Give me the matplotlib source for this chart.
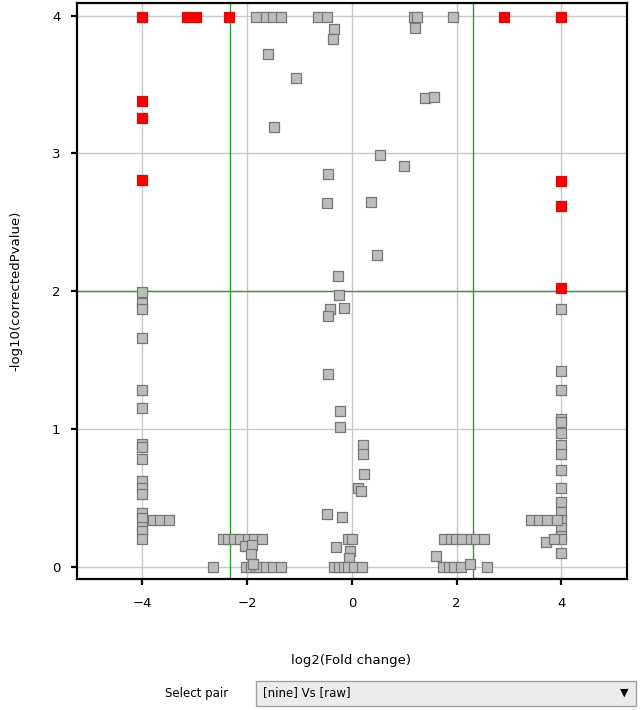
import matplotlib
matplotlib.use('Agg')
import matplotlib.pyplot as plt
from matplotlib.patches import Rectangle

# significant points (red)
red_x = [-4.0, -3.15, -2.97, -2.35, 2.91, 4.0, -4.0, -4.0, -4.0, 4.0, 4.0, 4.0]
red_y = [3.99, 3.99, 3.99, 3.99, 3.99, 3.99, 3.38, 3.26, 2.81, 2.80, 2.62, 2.02]

# other points (grey)
grey_x = [-1.83, -1.64, -1.51, -1.36, -0.65, -0.48, 1.19, 1.25, 1.93,
          -0.34, -0.36, -1.60, -1.06, -1.48,
          1.20, 1.40, 1.57, 0.54, 0.99, 0.36, 0.48,
          -0.46, -0.48, -0.27, -0.24, -0.41, -0.15, -0.46,
          -0.46, -0.22, -0.22, 0.22, 0.22, 0.24, 0.11, 0.17,
          -0.48, -0.18, -0.08, 0.01, -0.31, -0.04, -0.06,
          -0.35, -0.24, -0.16, -0.08, 0.04, 0.20,
          -4, -4, -4, -4, -4, -4, -4, -4, -4, -4, -4, -4, -4, -4, -4, -4, -4,
          -3.79, -3.66, -3.49,
          -2.47, -2.37, -2.26, -2.13, -1.99, -1.86, -1.72,
          -2.05, -1.90, -1.93,
          -2.65, -2.02, -1.93, -1.83, -1.77, -1.64, -1.51, -1.35, -1.88,
          1.76, 1.89, 1.98, 2.11, 2.27, 2.37, 2.52, 1.60,
          1.73, 1.86, 1.95, 2.08, 2.26, 2.57,
          4, 4, 4, 4, 4, 4, 4, 4, 4, 4, 4, 4, 4, 4, 4, 4, 4,
          3.42, 3.57, 3.72, 3.91, 3.70, 3.85]
grey_y = [3.99, 3.99, 3.99, 3.99, 3.99, 3.99, 3.99, 3.99, 3.99,
          3.90, 3.83, 3.72, 3.55, 3.19,
          3.91, 3.40, 3.41, 2.99, 2.91, 2.65, 2.26,
          2.85, 2.64, 2.11, 1.97, 1.87, 1.88, 1.82,
          1.40, 1.13, 1.01, 0.88, 0.82, 0.67, 0.57, 0.55,
          0.38, 0.36, 0.20, 0.20, 0.14, 0.11, 0.06,
          0.0, 0.0, 0.0, 0.0, 0.0, 0.0,
          1.99, 1.91, 1.87, 1.66, 1.28, 1.15, 0.89, 0.87, 0.78, 0.62, 0.57, 0.53, 0.39, 0.35, 0.29, 0.26, 0.20,
          0.34, 0.34, 0.34,
          0.20, 0.20, 0.20, 0.20, 0.20, 0.20, 0.20,
          0.15, 0.16, 0.09,
          0.0, 0.0, 0.0, 0.0, 0.0, 0.0, 0.0, 0.0, 0.02,
          0.20, 0.20, 0.20, 0.20, 0.20, 0.20, 0.20, 0.08,
          0.0, 0.0, 0.0, 0.0, 0.02, 0.0,
          1.87, 1.42, 1.28, 1.07, 1.05, 0.97, 0.88, 0.82, 0.70, 0.57, 0.47, 0.40, 0.34, 0.28, 0.22, 0.20, 0.10,
          0.34, 0.34, 0.34, 0.34, 0.18, 0.20]

fc_cut = 2.32
p_cut = 2.0

fig = plt.figure(figsize=(6.41, 7.10), dpi=100)
ax = fig.add_axes([0.120, 0.1845, 0.858, 0.811])

ax.set_xlim(-5.25, 5.25)
ax.set_ylim(-0.09, 4.09)
ax.set_xticks([-4, -2, 0, 2, 4])
ax.set_yticks([0, 1, 2, 3, 4])
ax.grid(color='#c8c8c8', linewidth=1.0, zorder=0)
ax.set_axisbelow(True)

ax.axvline(-fc_cut, color='#2aa02a', linewidth=1.0, zorder=1)
ax.axvline(fc_cut, color='#2aa02a', linewidth=1.0, zorder=1)
ax.axhline(p_cut, color='#2aa02a', linewidth=1.0, zorder=1)

ax.scatter(grey_x, grey_y, marker='s', s=58, facecolor='#bdbdbd',
           edgecolor='#777777', linewidth=0.9, zorder=3)
ax.scatter(red_x, red_y, marker='s', s=58, facecolor='#ff0000',
           edgecolor='#d01010', linewidth=0.9, zorder=4)

for sp in ax.spines.values():
    sp.set_linewidth(1.6)
    sp.set_color('black')
ax.tick_params(direction='out', length=4, width=1.6, labelsize=9.5, pad=9)
ax.tick_params(axis='y', pad=8)

ax.set_ylabel('-log10(correctedPvalue)', fontsize=9.5, labelpad=21)
fig.text(0.547, 0.070, 'log2(Fold change)', fontsize=9.5, ha='center', va='center')

# "Select pair" selector underneath
fig.text(228 / 641, 1 - 693 / 710, 'Select pair', fontsize=8.5, ha='right', va='center')
fig.patches.append(Rectangle((256 / 641, 1 - 706 / 710), 380 / 641, 25 / 710,
                             transform=fig.transFigure, facecolor='#ececec',
                             edgecolor='#a0a0a0', linewidth=1.0))
fig.text(263 / 641, 1 - 693 / 710, '[nine] Vs [raw]', fontsize=8.5, ha='left', va='center')
fig.text(624 / 641, 1 - 693 / 710, '\u25bc', fontsize=8, ha='center', va='center')

plt.savefig('out.png', dpi=100)
